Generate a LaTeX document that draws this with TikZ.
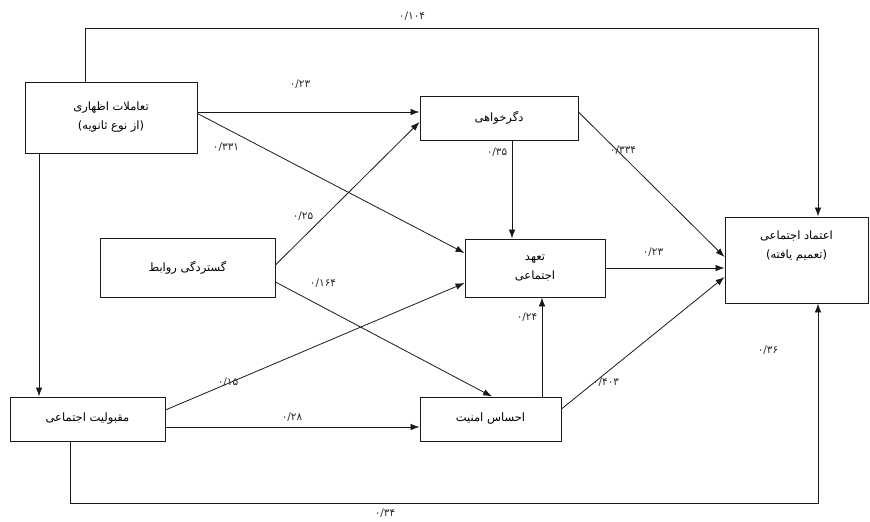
\documentclass[tikz,border=0pt]{standalone}
\usepackage{fontspec}
\usetikzlibrary{arrows.meta}
\TeXXeTstate=1
\newfontfamily\arabicfont[Script=Arabic]{DejaVu Sans}
\begin{document}
\begin{tikzpicture}[x=1pt,y=-1pt,
  box/.style={draw=black!90, line width=0.9pt, inner sep=0pt, align=center, font=\arabicfont\fontsize{11.5}{19}\selectfont},
  arr/.style={draw=black!90, line width=0.8pt, -{Latex[length=9pt,width=6.5pt]}},
  lab/.style={inner sep=0pt, font=\arabicfont\fontsize{10.5}{12}\selectfont, text=black!85}]
\useasboundingbox (0,0) rectangle (870,522);
% boxes
\node[box, minimum width=172pt, minimum height=71pt] (n1) at (111,117.5) {\beginR تعاملات اظهاری\endR\\\beginR (از نوع ثانویه)\endR};
\node[box, minimum width=158pt, minimum height=44pt] (n2) at (499,118) {\beginR دگرخواهی\endR};
\node[box, minimum width=175pt, minimum height=59pt] (n3) at (187.5,267.5) {\beginR گستردگی روابط\endR};
\node[box, minimum width=140pt, minimum height=58pt] (n4) at (535,268) {\beginR تعهد\endR\\\beginR اجتماعی\endR};
\node[box, minimum width=143pt, minimum height=86pt] (n5) at (796.5,260) {};
\node[box, draw=none] (n5t) at (796.5,246) {\beginR اعتماد اجتماعی\endR\\\beginR (تعمیم یافته)\endR};
\node[box, minimum width=155pt, minimum height=44pt] (n6) at (87.5,419) {\beginR مقبولیت اجتماعی\endR};
\node[box, minimum width=141pt, minimum height=44pt] (n7) at (490.5,419) {\beginR احساس امنیت\endR};
% helper coordinates
\coordinate (topline) at (0,28);
\coordinate (botline) at (0,503);
\coordinate (a1) at ([xshift=-26pt]n1.north);
\coordinate (a2) at ([xshift=21.5pt]n5.north);
\coordinate (b1) at ([xshift=-17.5pt]n6.south);
\coordinate (b2) at ([xshift=21.5pt]n5.south);
% connectors
\draw[arr] (a1) -- (a1 |- topline) -- (a2 |- topline) -- (a2);
\draw[arr] (b1) -- (b1 |- botline) -- (b2 |- botline) -- (b2);
\draw[arr] ([yshift=5.5pt]n1.east) -- ([yshift=6pt]n2.west);
\draw[arr] ([yshift=4pt]n1.east) -- ([yshift=15pt]n4.west);
\draw[arr] ([xshift=-72pt]n1.south) -- ([xshift=-48.5pt]n6.north);
\draw[arr] ([yshift=2.5pt]n3.east) -- ([yshift=-4pt]n2.west);
\draw[arr] ([yshift=-14.5pt]n3.east) -- ([xshift=1.5pt]n7.north);
\draw[arr] ([xshift=13pt]n2.south) -- ([xshift=-23pt]n4.north);
\draw[arr] ([yshift=6pt]n2.east) -- ([yshift=3pt]n5.west);
\draw[arr] (n4.east) -- ([yshift=-8pt]n5.west);
\draw[arr] ([yshift=10pt]n7.east) -- ([yshift=-17pt]n5.west);
\draw[arr] ([xshift=51.5pt]n7.north) -- ([xshift=7pt]n4.south);
\draw[arr] ([yshift=9pt]n6.east) -- ([yshift=-15pt]n4.west);
\draw[arr] ([yshift=-8pt]n6.east) -- ([yshift=-8pt]n7.west);
% labels
\node[lab] (l1) at (412,16) {۰/۱۰۴};
\node[lab] (l2) at (300,84) {۰/۲۳};
\node[lab] (l3) at (226,147) {۰/۳۳۱};
\node[lab] (l4) at (303,216) {۰/۲۵};
\node[lab] (l5) at (323,283) {۰/۱۶۴};
\node[lab] (l6) at (497,152) {۰/۳۵};
\node[lab] (l7) at (623,150) {۰/۳۳۴};
\node[lab] (l8) at (653,252) {۰/۲۳};
\node[lab] (l9) at (527,317) {۰/۲۴};
\node[lab] (l10) at (606,382) {۰/۴۰۳};
\node[lab] (l11) at (228,382) {۰/۱۵};
\node[lab] (l12) at (292,417) {۰/۲۸};
\node[lab] (l13) at (385,513) {۰/۳۴};
\node[lab] (l14) at (768,350) {۰/۳۶};
\end{tikzpicture}
\end{document}
